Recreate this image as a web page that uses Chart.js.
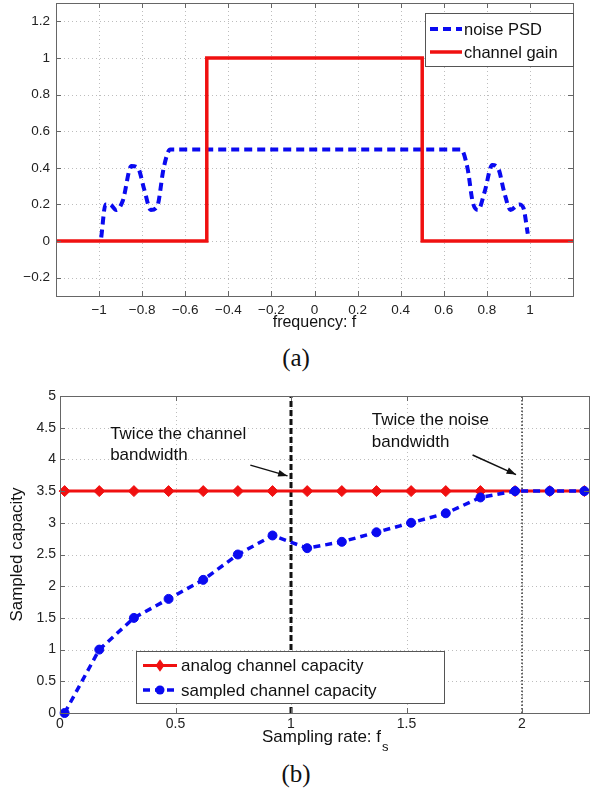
<!DOCTYPE html>
<html>
<head>
<meta charset="utf-8">
<script src="https://cdn.jsdelivr.net/npm/chart.js@4.4.1/dist/chart.umd.min.js"></script>
<style>
    body { margin: 0; background: #fff; width: 590px; height: 791px; position: relative; overflow: hidden; }
    .wrap { position: absolute; left: 0; width: 590px; }
    #wrap-a { top: 0; height: 340px; }
    #wrap-b { top: 380px; height: 380px; }
    .cap { position: absolute; left: 0; width: 592px; text-align: center; font-family: "Liberation Serif", serif; font-size: 25px; line-height: 28px; color: #111; }
</style>
</head>
<body>
<div class="wrap" id="wrap-a"><canvas id="chart-a"></canvas></div>
<div class="cap" style="top:344px">(a)</div>
<div class="wrap" id="wrap-b"><canvas id="chart-b"></canvas></div>
<div class="cap" style="top:760px">(b)</div>
<script>
// ---- (a) noise PSD and channel gain ----
const psdFreq = [-0.99, -0.97, -0.95, -0.92, -0.89, -0.85, -0.82, -0.79, -0.76, -0.73, -0.70, -0.67,
                 0.68, 0.71, 0.735, 0.76, 0.79, 0.825, 0.855, 0.88, 0.91, 0.95, 0.97, 0.99];
const psdLevel = [0.02, 0.2, 0.2, 0.17, 0.22, 0.41, 0.40, 0.28, 0.17, 0.19, 0.40, 0.5,
                  0.5, 0.40, 0.21, 0.17, 0.27, 0.415, 0.39, 0.27, 0.17, 0.2, 0.18, 0.04];
const gainFreq = [-1.2, -0.5, -0.5, 0.5, 0.5, 1.2];
const gainLevel = [0, 0, 1, 1, 0, 0];
const freqTicks = [-1, -0.8, -0.6, -0.4, -0.2, 0, 0.2, 0.4, 0.6, 0.8, 1];
const levelTicks = [-0.2, 0, 0.2, 0.4, 0.6, 0.8, 1, 1.2];

// ---- (b) sampled capacity ----
const sampleRate = [0.02, 0.17, 0.32, 0.47, 0.62, 0.77, 0.92, 1.07, 1.22, 1.37, 1.52, 1.67, 1.82, 1.97, 2.12, 2.27];
const analogCap = [3.5, 3.5, 3.5, 3.5, 3.5, 3.5, 3.5, 3.5, 3.5, 3.5, 3.5, 3.5, 3.5, 3.5, 3.5, 3.5];
const sampledCap = [0, 1.0, 1.5, 1.8, 2.1, 2.5, 2.8, 2.6, 2.7, 2.85, 3.0, 3.15, 3.4, 3.5, 3.5, 3.5];
const rateTicks = [0, 0.5, 1, 1.5, 2];
const capTicks = [0, 0.5, 1, 1.5, 2, 2.5, 3, 3.5, 4, 4.5, 5];
const channelBwRate = 1;   // twice the channel bandwidth
const noiseBwRate = 2;     // twice the noise bandwidth

const SANS = "'Liberation Sans', Arial, sans-serif";
const BLUE = "#0a0af0";
const RED = "#f01010";

function pairs(xs, ys) {
    return xs.map((v, i) => ({ x: v, y: ys[i] }));
}

function fmt(v) {
    let s = String(Math.round(v * 100) / 100);
    return s.replace("-", "\u2212");
}

// matlab style box: dotted grid, frame, inward ticks, legend, notes
const matlabBox = {
    id: "matlabBox",
    beforeDatasetsDraw(chart) {
        const { ctx, chartArea: a, scales: { x, y } } = chart;
        ctx.save();
        ctx.strokeStyle = "#bdbdbd";
        ctx.lineWidth = 1;
        ctx.setLineDash([1, 3]);
        ctx.beginPath();
        x.ticks.forEach(t => {
            const px = Math.round(x.getPixelForValue(t.value)) + 0.5;
            ctx.moveTo(px, a.top);
            ctx.lineTo(px, a.bottom);
        });
        y.ticks.forEach(t => {
            const py = Math.round(y.getPixelForValue(t.value)) + 0.5;
            ctx.moveTo(a.left, py);
            ctx.lineTo(a.right, py);
        });
        ctx.stroke();
        ctx.restore();
    },
    afterDraw(chart, args, opts) {
        const { ctx, chartArea: a, scales: { x, y } } = chart;
        ctx.save();
        ctx.strokeStyle = "#666";
        ctx.lineWidth = 1;
        ctx.setLineDash([]);
        ctx.strokeRect(Math.round(a.left) + 0.5, Math.round(a.top) + 0.5,
            Math.round(a.right - a.left), Math.round(a.bottom - a.top));
        ctx.beginPath();
        x.ticks.forEach(t => {
            const px = Math.round(x.getPixelForValue(t.value)) + 0.5;
            ctx.moveTo(px, a.bottom); ctx.lineTo(px, a.bottom - 5);
            ctx.moveTo(px, a.top); ctx.lineTo(px, a.top + 5);
        });
        y.ticks.forEach(t => {
            const py = Math.round(y.getPixelForValue(t.value)) + 0.5;
            ctx.moveTo(a.left, py); ctx.lineTo(a.left + 5, py);
            ctx.moveTo(a.right, py); ctx.lineTo(a.right - 5, py);
        });
        ctx.stroke();

        // notes with arrows
        (opts.notes || []).forEach(n => {
            ctx.fillStyle = "#111";
            ctx.font = "17px " + SANS;
            ctx.textBaseline = "middle";
            ctx.textAlign = "left";
            const tx = x.getPixelForValue(n.x);
            const ty = y.getPixelForValue(n.y);
            n.lines.forEach((l, i) => ctx.fillText(l, tx, ty + i * 21.5));
            const x0 = x.getPixelForValue(n.from[0]), y0 = y.getPixelForValue(n.from[1]);
            const x1 = x.getPixelForValue(n.to[0]), y1 = y.getPixelForValue(n.to[1]);
            ctx.strokeStyle = "#111";
            ctx.lineWidth = 1.5;
            ctx.beginPath();
            ctx.moveTo(x0, y0); ctx.lineTo(x1, y1);
            ctx.stroke();
            const ang = Math.atan2(y1 - y0, x1 - x0);
            ctx.beginPath();
            ctx.moveTo(x1, y1);
            ctx.lineTo(x1 - 10 * Math.cos(ang - 0.35), y1 - 10 * Math.sin(ang - 0.35));
            ctx.lineTo(x1 - 10 * Math.cos(ang + 0.35), y1 - 10 * Math.sin(ang + 0.35));
            ctx.closePath();
            ctx.fillStyle = "#111";
            ctx.fill();
        });

        // legend
        const lg = opts.legend;
        if (lg) {
            const bx = lg.right !== undefined ? a.right - lg.width : a.left + lg.left;
            const by = a.top + lg.top;
            ctx.fillStyle = "#fff";
            ctx.fillRect(bx, by, lg.width, lg.height);
            ctx.strokeStyle = "#555";
            ctx.lineWidth = 1;
            ctx.strokeRect(Math.round(bx) + 0.5, Math.round(by) + 0.5, lg.width, lg.height);
            ctx.font = lg.font + "px " + SANS;
            ctx.textBaseline = "middle";
            ctx.textAlign = "left";
            lg.items.forEach((idx, i) => {
                const ds = chart.data.datasets[idx];
                const cy = by + lg.rowTop + i * lg.rowGap;
                const lx0 = bx + lg.pad, lx1 = lx0 + lg.sample;
                ctx.strokeStyle = ds.borderColor;
                ctx.lineWidth = ds.borderWidth;
                ctx.setLineDash(ds.borderDash || []);
                ctx.beginPath();
                ctx.moveTo(lx0, cy); ctx.lineTo(lx1, cy);
                ctx.stroke();
                ctx.setLineDash([]);
                if (ds.pointRadius) {
                    const mx = (lx0 + lx1) / 2, r = ds.pointRadius;
                    ctx.fillStyle = ds.pointBackgroundColor;
                    ctx.beginPath();
                    if (ds.pointStyle === "rectRot") {
                        ctx.moveTo(mx, cy - r * 1.15); ctx.lineTo(mx + r * 0.8, cy);
                        ctx.lineTo(mx, cy + r * 1.15); ctx.lineTo(mx - r * 0.8, cy);
                        ctx.closePath();
                    } else {
                        ctx.arc(mx, cy, r, 0, Math.PI * 2);
                    }
                    ctx.fill();
                }
                ctx.fillStyle = "#111";
                ctx.fillText(ds.label, lx1 + lg.gap, cy + 1);
            });
        }

        // x title with subscript
        if (opts.xTitle) {
            const t = opts.xTitle;
            ctx.fillStyle = "#111";
            ctx.textBaseline = "alphabetic";
            ctx.textAlign = "left";
            ctx.font = "17px " + SANS;
            const w1 = ctx.measureText(t.text).width;
            ctx.font = "12px " + SANS;
            const w2 = ctx.measureText(t.sub).width;
            const cx = (a.left + a.right) / 2;
            const x0 = cx - (w1 + w2) / 2;
            const base = a.bottom + t.offset;
            ctx.font = "17px " + SANS;
            ctx.fillText(t.text, x0, base);
            ctx.font = "13px " + SANS;
            ctx.fillText(t.sub, x0 + w1 + 1, base + 9);
        }
        ctx.restore();
    }
};

function fixedTicks(list) {
    return function (scale) {
        scale.ticks = list.map(v => ({ value: v }));
    };
}

function fitX(h) {
    return function (s) {
        s.height = h;
        s.paddingLeft = 0;
        s.paddingRight = 0;
    };
}

function fitY(w) {
    return function (s) {
        s.width = w;
        s.paddingTop = 0;
        s.paddingBottom = 0;
    };
}

// chart (a)
new Chart(document.getElementById("chart-a"), {
    type: "line",
    data: {
        datasets: [
            {
                label: "noise PSD",
                data: pairs(psdFreq, psdLevel),
                borderColor: BLUE,
                borderWidth: 4,
                borderDash: [8, 5],
                pointRadius: 0,
                cubicInterpolationMode: "monotone",
                order: 1,
            },
            {
                label: "channel gain",
                data: pairs(gainFreq, gainLevel),
                borderColor: RED,
                borderWidth: 3.5,
                pointRadius: 0,
                tension: 0,
                order: 0,
            },
        ],
    },
    options: {
        responsive: true,
        maintainAspectRatio: false,
        animation: false,
        layout: { autoPadding: false, padding: { top: 3, right: 17, left: 0, bottom: 0 } },
        scales: {
            x: {
                type: "linear",
                min: -1.2,
                max: 1.2,
                afterBuildTicks: fixedTicks(freqTicks),
                afterFit: fitX(44),
                grid: { display: false, drawTicks: false },
                border: { display: false },
                ticks: {
                    color: "#222",
                    padding: 6,
                    font: { family: SANS, size: 13.5 },
                    maxRotation: 0,
                    callback: v => fmt(v),
                },
                title: {
                    display: true,
                    text: "frequency: f",
                    color: "#111",
                    font: { family: SANS, size: 16 },
                    padding: { top: 0, bottom: 8 },
                },
            },
            y: {
                min: -0.3,
                max: 1.3,
                afterBuildTicks: fixedTicks(levelTicks),
                afterFit: fitY(56),
                grid: { display: false, drawTicks: false },
                border: { display: false },
                ticks: {
                    color: "#222",
                    padding: 6,
                    font: { family: SANS, size: 13.5 },
                    callback: v => fmt(v),
                },
            },
        },
        plugins: {
            legend: { display: false },
            tooltip: { enabled: false },
            matlabBox: {
                legend: {
                    right: 0, top: 10, width: 148, height: 53, font: 16.5,
                    pad: 5, sample: 32, gap: 2, rowTop: 16, rowGap: 23, items: [0, 1],
                },
            },
        },
    },
    plugins: [matlabBox],
});

// chart (b)
new Chart(document.getElementById("chart-b"), {
    type: "line",
    data: {
        datasets: [
            {
                label: "analog channel capacity",
                data: pairs(sampleRate, analogCap),
                borderColor: RED,
                borderWidth: 3,
                pointStyle: "rectRot",
                pointRadius: 5.5,
                pointBackgroundColor: RED,
                pointBorderColor: RED,
                pointBorderWidth: 1,
                clip: false,
                order: 1,
            },
            {
                label: "sampled channel capacity",
                data: pairs(sampleRate, sampledCap),
                borderColor: BLUE,
                borderWidth: 3.5,
                borderDash: [7, 5],
                pointStyle: "circle",
                pointRadius: 4.5,
                pointBackgroundColor: BLUE,
                pointBorderColor: BLUE,
                pointBorderWidth: 1,
                clip: false,
                order: 0,
            },
            {
                label: "channel",
                data: pairs([channelBwRate, channelBwRate], [0, 5]),
                borderColor: "#111",
                borderWidth: 3,
                borderDash: [6, 3],
                pointRadius: 0,
                order: 2,
            },
            {
                label: "noise",
                data: pairs([noiseBwRate, noiseBwRate], [0, 5]),
                borderColor: "#333",
                borderWidth: 1.5,
                borderDash: [1.5, 2],
                pointRadius: 0,
                order: 2,
            },
        ],
    },
    options: {
        responsive: true,
        maintainAspectRatio: false,
        animation: false,
        layout: { autoPadding: false, padding: { top: 16, right: 1, left: 0, bottom: 0 } },
        scales: {
            x: {
                type: "linear",
                min: 0,
                max: 2.29,
                afterBuildTicks: fixedTicks(rateTicks),
                afterFit: fitX(47),
                grid: { display: false, drawTicks: false },
                border: { display: false },
                ticks: {
                    color: "#222",
                    padding: 3,
                    font: { family: SANS, size: 14 },
                    maxRotation: 0,
                    callback: v => fmt(v),
                },
            },
            y: {
                min: 0,
                max: 5,
                afterBuildTicks: fixedTicks(capTicks),
                afterFit: fitY(60),
                grid: { display: false, drawTicks: false },
                border: { display: false },
                ticks: {
                    color: "#222",
                    padding: 4,
                    font: { family: SANS, size: 14 },
                    callback: v => fmt(v),
                },
                title: {
                    display: true,
                    text: "Sampled capacity",
                    color: "#111",
                    font: { family: SANS, size: 17 },
                    padding: { top: 7, bottom: 0 },
                },
            },
        },
        plugins: {
            legend: { display: false },
            tooltip: { enabled: false },
            matlabBox: {
                legend: {
                    left: 76, top: 255, width: 308, height: 52, font: 17,
                    pad: 7, sample: 34, gap: 4, rowTop: 14.5, rowGap: 24.5, items: [0, 1],
                },
                notes: [
                    { x: 0.217, y: 4.40, lines: ["Twice the channel", "bandwidth"], from: [0.824, 3.91], to: [0.985, 3.74] },
                    { x: 1.35, y: 4.61, lines: ["Twice the noise", "bandwidth"], from: [1.786, 4.07], to: [1.974, 3.76] },
                ],
                xTitle: { text: "Sampling rate: f", sub: "s", offset: 29 },
            },
        },
    },
    plugins: [matlabBox],
});
</script>
</body>
</html>
